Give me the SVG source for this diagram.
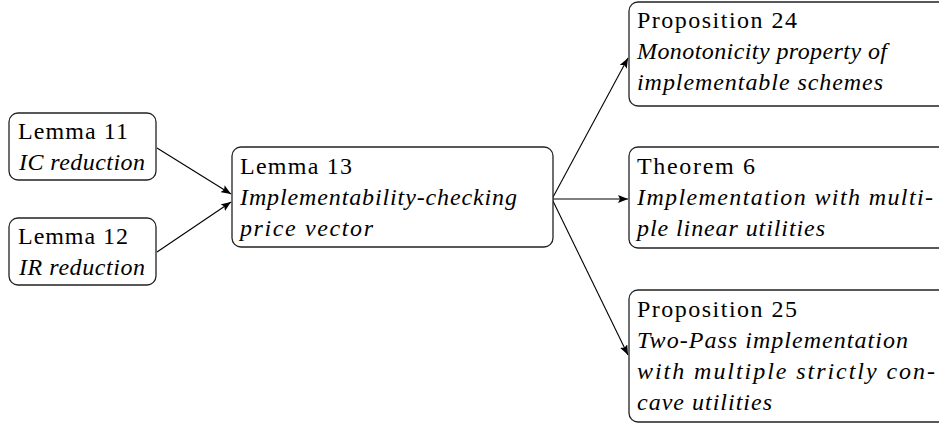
<svg xmlns="http://www.w3.org/2000/svg" width="939" height="425" viewBox="0 0 939 425">
<style>
.box{fill:#fff;stroke:#222;stroke-width:1.3}
.i{font-style:italic}
.c{stroke:#000;stroke-width:1.1;fill:none;marker-end:url(#ah)}
</style>
<defs>
<marker id="ah" viewBox="0 0 10 8" refX="10" refY="4" markerWidth="10" markerHeight="8" markerUnits="userSpaceOnUse" orient="auto">
<path d="M0,0 L10,4 L0,8 L2,4 Z" fill="#000"/>
</marker>
</defs>
<rect width="939" height="425" fill="#fff"/>
<g id="connectors">
<line class="c" x1="157" y1="148" x2="231" y2="194"/>
<line class="c" x1="157" y1="252" x2="231" y2="202"/>
<line class="c" x1="552" y1="199" x2="628" y2="58"/>
<line class="c" x1="552" y1="199" x2="628" y2="199"/>
<line class="c" x1="552" y1="199" x2="628" y2="355"/>
</g>
<g font-family="Liberation Serif, Times New Roman, Times, serif" font-size="24" fill="#000">
<g id="lemma11">
<rect class="box" x="9" y="113" width="147" height="67" rx="9"/>
<text x="18" y="139" textLength="110">Lemma 11</text>
<text class="i" x="19" y="170" textLength="126">IC reduction</text>
</g>
<g id="lemma12">
<rect class="box" x="9" y="218" width="147" height="67" rx="9"/>
<text x="18" y="244" textLength="110">Lemma 12</text>
<text class="i" x="19" y="275" textLength="126">IR reduction</text>
</g>
<g id="lemma13">
<rect class="box" x="232" y="147" width="321" height="100" rx="9"/>
<text x="240" y="174" textLength="112">Lemma 13</text>
<text class="i" x="240" y="205" textLength="277">Implementability-checking</text>
<text class="i" x="240" y="236" textLength="133">price vector</text>
</g>
<g id="prop24">
<rect class="box" x="629" y="2" width="320" height="104" rx="9"/>
<text x="637" y="28" textLength="160">Proposition 24</text>
<text class="i" x="637" y="59" textLength="250">Monotonicity property of</text>
<text class="i" x="637" y="90" textLength="246">implementable schemes</text>
</g>
<g id="thm6">
<rect class="box" x="629" y="147" width="320" height="101" rx="9"/>
<text x="637" y="174" textLength="118">Theorem 6</text>
<text class="i" x="637" y="205" textLength="296">Implementation with multi-</text>
<text class="i" x="637" y="236" textLength="188">ple linear utilities</text>
</g>
<g id="prop25">
<rect class="box" x="629" y="290" width="320" height="132" rx="9"/>
<text x="637" y="317" textLength="160">Proposition 25</text>
<text class="i" x="637" y="348" textLength="271">Two-Pass implementation</text>
<text class="i" x="637" y="379" textLength="298">with multiple strictly con-</text>
<text class="i" x="637" y="410" textLength="135">cave utilities</text>
</g>
</g>
</svg>
